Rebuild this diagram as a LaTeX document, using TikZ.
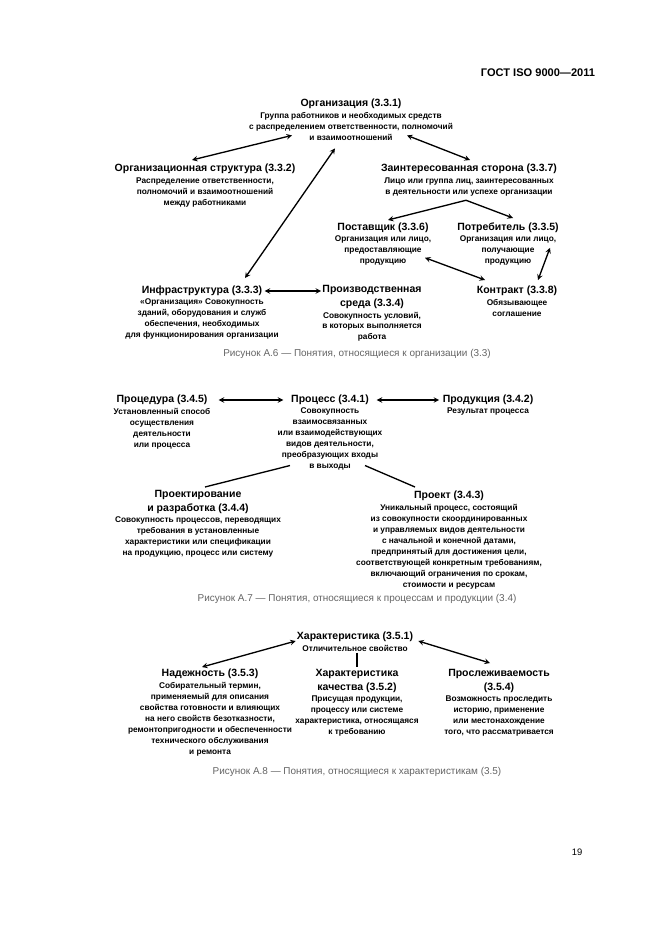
\documentclass[tikz,border=0pt]{standalone}
\usepackage{fontspec}
\setmainfont{Liberation Sans}
\usepackage{tikz}
\usetikzlibrary{arrows}
\usetikzlibrary{positioning}
\definecolor{capgray}{RGB}{100, 100, 100}

\tikzset{
  ttl/.style={font=\fontsize{9.5}{12.5}\selectfont\bfseries, align=center, inner sep=0pt},
  dsc/.style={font=\fontsize{7.5}{9.9}\selectfont\bfseries, align=center, inner sep=0pt},
  capt/.style={font=\fontsize{9}{10}\selectfont, text=capgray, inner sep=0pt},
  dbl/.style={stealth-stealth, line width=1.2pt},
  lnk/.style={line width=1.2pt}
}

\begin{document}
\begin{tikzpicture}[x=0.3177mm, y=-0.3177mm]
  \useasboundingbox (0,0) rectangle (661,935);
  \node[font=\fontsize{10}{11}\selectfont\bfseries, inner sep=0pt] (head) at (538,73) {ГОСТ ISO 9000---2011};

  % A.6
  \node[ttl] (org) at (351,104) {Организация (3.3.1)};
  \node[dsc, below=2.5pt of org] (orgd) {Группа работников и необходимых средств\\с распределением ответственности, полномочий\\и взаимоотношений};
  \node[ttl] (orgstr) at (205,169) {Организационная структура (3.3.2)};
  \node[dsc, below=3pt of orgstr] (orgstrd) {Распределение ответственности,\\полномочий и взаимоотношений\\между работниками};
  \node[ttl] (interest) at (469,169) {Заинтересованная сторона (3.3.7)};
  \node[dsc, below=3pt of interest] (interestd) {Лицо или группа лиц, заинтересованных\\в деятельности или успехе организации};
  \node[ttl] (supplier) at (383,228) {Поставщик (3.3.6)};
  \node[dsc, below=2.5pt of supplier] (supplierd) {Организация или лицо,\\предоставляющие\\продукцию};
  \node[ttl] (customer) at (508,228) {Потребитель (3.3.5)};
  \node[dsc, below=2.5pt of customer] (customerd) {Организация или лицо,\\получающие\\продукцию};
  \node[ttl] (infra) at (202,291) {Инфраструктура (3.3.3)};
  \node[dsc, below=2.5pt of infra] (infrad) {«Организация» Совокупность\\зданий, оборудования и служб\\обеспечения, необходимых\\для функционирования организации};
  \node[ttl] (workenv) at (372,297) {Производственная\\среда (3.3.4)};
  \node[dsc, below=2.5pt of workenv] (workenvd) {Совокупность условий,\\в которых выполняется\\работа};
  \node[ttl] (contract) at (517,291) {Контракт (3.3.8)};
  \node[dsc, below=2.5pt of contract] (contractd) {Обязывающее\\соглашение};

  \draw[dbl] ([shift={(-59,-5)}]orgd.south) -- ([shift={(-13,-9)}]orgstr.center);
  \draw[dbl] ([shift={(56,-5)}]orgd.south) -- ([shift={(1,-9)}]interest.center);
  \draw[dbl] ([shift={(-16,8)}]orgd.south) -- ([shift={(43,-13)}]infra.center);
  \draw[-stealth, lnk] ([shift={(-3,4)}]interestd.south) -- ([shift={(5,-8)}]supplier.center);
  \draw[-stealth, lnk] ([shift={(-3,4)}]interestd.south) -- ([shift={(5,-10)}]customer.center);
  \draw[dbl] ([shift={(42,-8)}]supplierd.south) -- ([shift={(-32,-11)}]contract.center);
  \draw[dbl] ([shift={(42,-18)}]customerd.south) -- ([shift={(21,-11)}]contract.center);
  \draw[dbl, shorten <=2pt, shorten >=1pt] (infra.east) -- (infra.east -| workenv.west);
  \node[capt] (cap6) at (357,354) {Рисунок А.6 --- Понятия, относящиеся к организации (3.3)};

  % A.7
  \node[ttl] (procedure) at (162,400) {Процедура (3.4.5)};
  \node[dsc, below=2.5pt of procedure] (procedured) {Установленный способ\\осуществления\\деятельности\\или процесса};
  \node[ttl] (process) at (330,400) {Процесс (3.4.1)};
  \node[dsc, below=2.5pt of process] (processd) {Совокупность\\взаимосвязанных\\или взаимодействующих\\видов деятельности,\\преобразующих входы\\в выходы};
  \node[ttl] (product) at (488,400) {Продукция (3.4.2)};
  \node[dsc, below=2.5pt of product] (productd) {Результат процесса};
  \node[ttl] (design) at (198,502) {Проектирование\\и разработка (3.4.4)};
  \node[dsc, below=2.5pt of design] (designd) {Совокупность процессов, переводящих\\требования в установленные\\характеристики или спецификации\\на продукцию, процесс или систему};
  \node[ttl] (project) at (449,496) {Проект (3.4.3)};
  \node[dsc, below=3pt of project] (projectd) {Уникальный процесс, состоящий\\из совокупности скоординированных\\и управляемых видов деятельности\\с начальной и конечной датами,\\предпринятый для достижения цели,\\соответствующей конкретным требованиям,\\включающий ограничения по срокам,\\стоимости и ресурсам};

  \draw[dbl, shorten <=10pt, shorten >=7pt] (procedure) -- (process);
  \draw[dbl, shorten <=7pt, shorten >=3pt] (process) -- (product);
  \draw[lnk] ([shift={(-40,-5)}]processd.south) -- ([shift={(7,-15)}]design.center);
  \draw[lnk] ([shift={(35,-5)}]processd.south) -- ([shift={(-34,-9)}]project.center);
  \node[capt] (cap7) at (357,599) {Рисунок А.7 --- Понятия, относящиеся к процессам и продукции (3.4)};

  % A.8
  \node[ttl] (charact) at (355,637) {Характеристика (3.5.1)};
  \node[dsc, below=2.5pt of charact] (charactd) {Отличительное свойство};
  \node[ttl] (depend) at (210,674) {Надежность (3.5.3)};
  \node[dsc, below=2.5pt of depend] (dependd) {Собирательный термин,\\применяемый для описания\\свойства готовности и влияющих\\на него свойств безотказности,\\ремонтопригодности и обеспеченности\\технического обслуживания\\и ремонта};
  \node[ttl] (qualchar) at (357,681) {Характеристика\\качества (3.5.2)};
  \node[dsc, below=2.5pt of qualchar] (qualchard) {Присущая продукции,\\процессу или системе\\характеристика, относящаяся\\к требованию};
  \node[ttl] (trace) at (499,681) {Прослеживаемость\\(3.5.4)};
  \node[dsc, below=2.5pt of trace] (traced) {Возможность проследить\\историю, применение\\или местонахождение\\того, что рассматривается};

  \draw[dbl] ([shift={(-1,4)}]charact.west) -- ([shift={(-8,-7)}]depend.center);
  \draw[dbl] ([shift={(5,4)}]charact.east) -- ([shift={(-9,-18)}]trace.center);
  \draw[lnk, shorten <=1pt, shorten >=2pt] (charactd.south -| qualchar.north) -- (qualchar.north);
  \node[capt] (cap8) at (357,772) {Рисунок А.8 --- Понятия, относящиеся к характеристикам (3.5)};

  \node[font=\fontsize{8.5}{9}\selectfont, inner sep=0pt] (pagenum) at (577,852) {19};
\end{tikzpicture}
\end{document}
